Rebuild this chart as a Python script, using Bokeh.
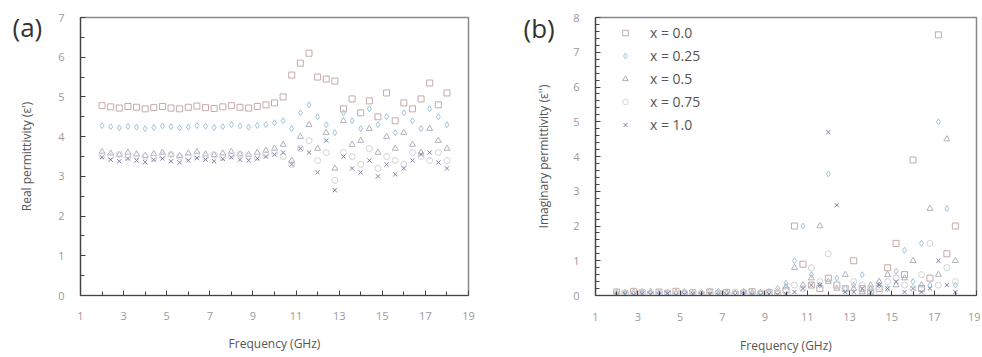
from bokeh.plotting import figure
from bokeh.layouts import row
from bokeh.models import Range1d, FixedTicker, Legend, LegendItem
from bokeh.embed import file_html
from bokeh.resources import INLINE

freq = [2.0, 2.4, 2.8, 3.2, 3.6, 4.0, 4.4, 4.8, 5.2, 5.6, 6.0, 6.4, 6.8, 7.2, 7.6, 8.0,
        8.4, 8.8, 9.2, 9.6, 10.0, 10.4, 10.8, 11.2, 11.6, 12.0, 12.4, 12.8, 13.2, 13.6,
        14.0, 14.4, 14.8, 15.2, 15.6, 16.0, 16.4, 16.8, 17.2, 17.6, 18.0]

series_names = ["x = 0.0", "x = 0.25", "x = 0.5", "x = 0.75", "x = 1.0"]

real_x00 = [4.78, 4.75, 4.72, 4.76, 4.74, 4.70, 4.73, 4.76, 4.72, 4.70, 4.74, 4.77, 4.73, 4.71,
            4.75, 4.78, 4.74, 4.72, 4.76, 4.80, 4.85, 5.00, 5.55, 5.85, 6.10, 5.50, 5.45, 5.40,
            4.70, 4.95, 4.60, 4.90, 4.50, 5.10, 4.40, 4.85, 4.70, 4.95, 5.35, 4.80, 5.10]
real_x025 = [4.28, 4.25, 4.22, 4.26, 4.24, 4.20, 4.23, 4.27, 4.25, 4.22, 4.24, 4.28, 4.26, 4.23,
             4.25, 4.30, 4.27, 4.24, 4.28, 4.30, 4.35, 4.40, 4.20, 4.60, 4.80, 4.50, 4.30, 4.10,
             4.60, 4.40, 4.20, 4.70, 4.30, 4.50, 4.10, 4.60, 4.40, 4.20, 4.70, 4.50, 4.30]
real_x05 = [3.62, 3.58, 3.55, 3.60, 3.56, 3.52, 3.57, 3.60, 3.55, 3.52, 3.58, 3.62, 3.56, 3.54,
            3.58, 3.62, 3.56, 3.55, 3.60, 3.65, 3.70, 3.80, 3.40, 4.00, 4.30, 3.70, 4.10, 3.20,
            4.40, 3.80, 3.90, 4.20, 3.60, 4.00, 3.70, 4.10, 3.80, 3.60, 4.20, 3.90, 3.70]
real_x075 = [3.52, 3.50, 3.55, 3.48, 3.52, 3.50, 3.46, 3.52, 3.55, 3.50, 3.48, 3.52, 3.50, 3.54,
             3.48, 3.52, 3.56, 3.50, 3.48, 3.55, 3.60, 3.50, 3.30, 3.70, 3.90, 3.40, 3.60, 2.90,
             3.60, 3.50, 3.30, 3.70, 3.20, 3.50, 3.40, 3.30, 3.60, 3.50, 3.40, 3.60, 3.40]
real_x10 = [3.48, 3.42, 3.38, 3.45, 3.40, 3.36, 3.42, 3.45, 3.38, 3.35, 3.40, 3.46, 3.42, 3.38,
            3.44, 3.48, 3.42, 3.40, 3.45, 3.50, 3.55, 3.60, 3.30, 3.70, 3.60, 3.10, 3.90, 2.65,
            3.50, 3.20, 3.10, 3.40, 3.00, 3.30, 3.05, 3.20, 3.40, 3.55, 3.60, 3.35, 3.20]

imag_x00 = [0.10, 0.05, 0.12, 0.08, 0.03, 0.10, 0.06, 0.12, 0.04, 0.08, 0.02, 0.10, 0.05, 0.09,
            0.03, 0.07, 0.11, 0.04, 0.08, 0.05, 0.15, 2.00, 0.90, 0.30, 0.20, 0.50, 0.30, 0.20,
            1.00, 0.20, 0.10, 0.20, 0.80, 1.50, 0.60, 3.90, 0.20, 0.50, 7.50, 1.20, 2.00]
imag_x025 = [0.05, 0.10, 0.04, 0.12, 0.08, 0.03, 0.10, 0.05, 0.11, 0.06, 0.09, 0.03, 0.12, 0.06,
             0.08, 0.04, 0.10, 0.07, 0.12, 0.20, 0.35, 1.00, 2.00, 0.60, 0.30, 3.50, 0.50, 0.20,
             0.30, 0.60, 0.20, 0.30, 0.20, 0.70, 1.30, 0.40, 1.50, 0.30, 5.00, 2.50, 0.30]
imag_x05 = [0.08, 0.03, 0.09, 0.05, 0.11, 0.06, 0.02, 0.08, 0.10, 0.04, 0.07, 0.12, 0.03, 0.08,
            0.05, 0.11, 0.04, 0.09, 0.06, 0.10, 0.25, 0.80, 0.30, 0.50, 2.00, 0.40, 0.20, 0.60,
            0.20, 0.10, 0.30, 0.40, 0.60, 0.30, 0.50, 1.00, 0.30, 2.50, 0.60, 4.50, 1.00]
imag_x075 = [0.03, 0.07, 0.05, 0.10, 0.02, 0.08, 0.06, 0.04, 0.09, 0.03, 0.06, 0.08, 0.05, 0.02,
             0.10, 0.06, 0.03, 0.08, 0.05, 0.07, 0.12, 0.30, 0.20, 0.80, 0.40, 1.20, 0.30, 0.20,
             0.40, 0.30, 0.20, 0.10, 0.40, 0.50, 0.30, 0.20, 0.60, 1.50, 0.30, 0.80, 0.40]
imag_x10 = [0.02, 0.04, 0.01, 0.05, 0.03, 0.02, 0.06, 0.01, 0.03, 0.05, 0.02, 0.04, 0.01, 0.03,
            0.02, 0.05, 0.03, 0.01, 0.04, 0.02, 0.05, 0.10, 0.20, 0.30, 0.30, 4.70, 2.60, 0.10,
            0.10, 0.20, 0.10, 0.30, 0.20, 0.40, 0.10, 0.20, 0.10, 0.20, 1.00, 0.30, 0.10]

x_ticks = [1, 3, 5, 7, 9, 11, 13, 15, 17, 19]
x_minor = [2, 4, 6, 8, 10, 12, 14, 16, 18]
real_ticks = [0, 1, 2, 3, 4, 5, 6, 7]
imag_ticks = [0, 1, 2, 3, 4, 5, 6, 7, 8]

styles = [
    dict(marker="square", color="#c4aaa8"),
    dict(marker="diamond", color="#9ec6d8"),
    dict(marker="triangle", color="#b2b2bc"),
    dict(marker="circle", color="#d4d4d8"),
    dict(marker="x", color="#7c84a4"),
]

FONT = "Open Sans"


def style_axes(p):
    for ax in (p.xaxis[0], p.yaxis[0]):
        ax.axis_line_color = "#444444"
        ax.axis_line_width = 1.2
        ax.major_tick_in = 5
        ax.major_tick_out = 0
        ax.minor_tick_in = 4
        ax.minor_tick_out = 0
        ax.major_tick_line_color = "#444444"
        ax.minor_tick_line_color = "#444444"
        ax.major_label_text_font = FONT
        ax.major_label_text_font_size = "11px"
        ax.major_label_text_color = "#9a9a9a"
        ax.axis_label_text_font = FONT
        ax.axis_label_text_font_size = "12px"
        ax.axis_label_text_font_style = "normal"
        ax.axis_label_text_color = "#555555"
    p.xgrid.visible = False
    p.ygrid.visible = False
    p.outline_line_color = "#888888"
    p.outline_line_width = 1.5
    p.background_fill_color = "white"
    p.border_fill_color = "white"


def panel_label(p, text, offset, standoff):
    t = p.title
    t.text = text
    t.align = "left"
    t.vertical_align = "bottom"
    t.offset = offset
    t.standoff = standoff
    t.text_font = FONT
    t.text_font_size = "26px"
    t.text_font_style = "normal"
    t.text_color = "#333333"


# ---------- panel (a) ----------
pa = figure(frame_width=388, frame_height=278, output_backend="svg", toolbar_location=None,
            x_range=Range1d(1, 19), y_range=Range1d(0, 7), title=" ",
            min_border_left=80, min_border_right=32, min_border_top=17, min_border_bottom=60,
            x_axis_label="Frequency (GHz)", y_axis_label="Real permittivity (ε')")
style_axes(pa)
pa.xaxis[0].ticker = FixedTicker(ticks=x_ticks, minor_ticks=x_minor)
pa.yaxis[0].ticker = FixedTicker(ticks=real_ticks, minor_ticks=[0.5, 1.5, 2.5, 3.5, 4.5, 5.5, 6.5])
pa.xaxis[0].major_label_standoff = 16
pa.xaxis[0].axis_label_standoff = 12
pa.yaxis[0].major_label_standoff = 16
pa.yaxis[0].axis_label_standoff = 20

for ys, st in zip([real_x00, real_x025, real_x05, real_x075, real_x10], styles):
    pa.scatter(freq, ys, marker=st["marker"], size=6, line_color=st["color"],
               fill_alpha=0, line_width=1)

panel_label(pa, "(a)", -68, -54)

# ---------- panel (b) ----------
pb = figure(frame_width=381, frame_height=278, output_backend="svg", toolbar_location=None,
            x_range=Range1d(1, 19), y_range=Range1d(0, 8), title=" ",
            min_border_left=95, min_border_right=4, min_border_top=17, min_border_bottom=60,
            x_axis_label="Frequency (GHz)", y_axis_label="Imaginary permittivity (ε'')")
style_axes(pb)
pb.xaxis[0].ticker = FixedTicker(ticks=x_ticks, minor_ticks=x_minor)
pb.yaxis[0].ticker = FixedTicker(ticks=imag_ticks,
                                 minor_ticks=[i / 5 for i in range(41) if i % 5])
pb.xaxis[0].major_label_standoff = 17
pb.xaxis[0].axis_label_standoff = 13
pb.yaxis[0].major_label_standoff = 16
pb.yaxis[0].axis_label_standoff = 18

items = []
for ys, st, name in zip([imag_x00, imag_x025, imag_x05, imag_x075, imag_x10], styles, series_names):
    r = pb.scatter(freq, ys, marker=st["marker"], size=6, line_color=st["color"],
                   fill_alpha=0, line_width=1)
    items.append(LegendItem(label=name, renderers=[r]))

legend = Legend(items=items, location=(23, 159), padding=0, margin=0, spacing=0,
                label_height=23, glyph_height=23, glyph_width=14, label_standoff=18,
                label_text_font=FONT, label_text_font_size="14px", label_text_color="#555555",
                border_line_alpha=0, background_fill_alpha=0)
pb.add_layout(legend, "center")

panel_label(pb, "(b)", -72, -56)

layout = row(pa, pb, spacing=0)
open("out.html", "w").write(file_html(layout, INLINE))
